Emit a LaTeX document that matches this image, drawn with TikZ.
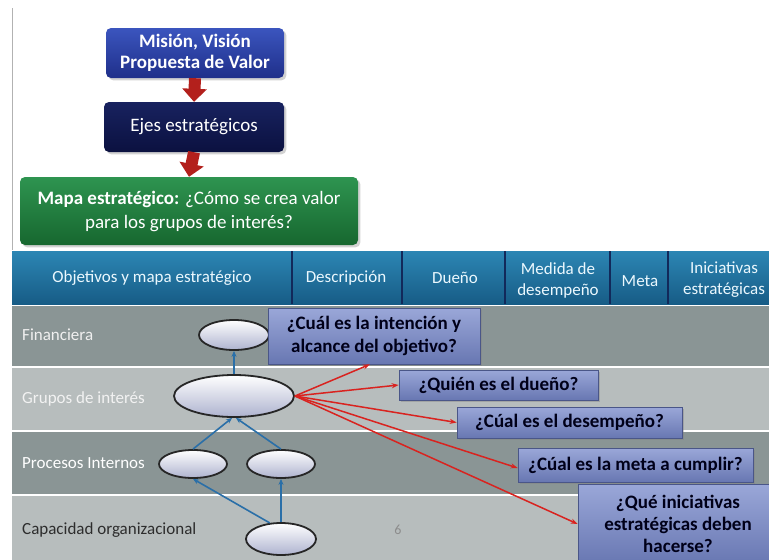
\documentclass[tikz,border=0pt]{standalone}
\usepackage{fontspec}
\setmainfont{Carlito}
\usetikzlibrary{positioning,arrows.meta,shadows,shapes.geometric,calc}

\definecolor{misiontop}{HTML}{3B55BE}
\definecolor{misionbot}{HTML}{1F2F8A}
\definecolor{ejestop}{HTML}{18225F}
\definecolor{ejesbot}{HTML}{0B1140}
\definecolor{mapatop}{HTML}{2E9450}
\definecolor{mapabot}{HTML}{17672F}
\definecolor{arrowred}{HTML}{B3201C}
\definecolor{headtop}{HTML}{2C86B4}
\definecolor{headbot}{HTML}{175C86}
\definecolor{headline}{HTML}{12295A}
\definecolor{rowdark}{HTML}{8A9595}
\definecolor{rowlight}{HTML}{B7BDBD}
\definecolor{ovalgray}{HTML}{AEB3CF}
\definecolor{linkblue}{HTML}{2A6FA8}
\definecolor{askred}{HTML}{D9231F}
\definecolor{qtop}{HTML}{9AA7D8}
\definecolor{qbot}{HTML}{6877B2}
\definecolor{qborder}{HTML}{4A5688}

\begin{document}
\begin{tikzpicture}[x=1pt,y=-1pt,
    topbox/.style={rectangle, rounded corners=5pt, align=center, text=white, inner sep=2pt, drop shadow={opacity=0.35}},
    bigarrow/.style={-{Triangle[width=24pt,length=13pt]}, line width=12pt, draw=arrowred},
    objective/.style={ellipse, draw=black!85, line width=1.8pt, top color=white, bottom color=ovalgray, inner sep=0pt},
    question/.style={rectangle, draw=qborder, line width=0.6pt, top color=qtop, bottom color=qbot, align=center, text=black!90!blue, inner sep=2pt, font=\fontsize{19}{23}\selectfont\bfseries, drop shadow={opacity=0.4}},
    rowlabel/.style={anchor=west, inner sep=0pt, font=\fontsize{17}{19}\selectfont},
    headcell/.style={align=center, text=white!92!cyan, inner sep=0pt, font=\fontsize{17}{21}\selectfont},
    linkarrow/.style={-{Stealth[length=6pt,width=5pt]}, line width=1.6pt, draw=linkblue},
    askarrow/.style={-{Stealth[length=7pt,width=5pt]}, line width=1.5pt, draw=askred}]

    \clip (0,0) rectangle (769,560);
    \fill[white] (0,0) rectangle (769,560);
    \draw[black!30, line width=0.8pt] (12,8) -- (12,250);

    %% Top of the slide
    \node[topbox, top color=misiontop, bottom color=misionbot, minimum width=178pt, minimum height=50pt,
          font=\fontsize{19}{20.5}\selectfont\bfseries] (mision) at (195,53) {Misión, Visión\\Propuesta de Valor};
    \node[topbox, top color=ejestop, bottom color=ejesbot, minimum width=180pt, minimum height=50pt,
          font=\fontsize{19}{21}\selectfont] (ejes) at (194,127) {Ejes estratégicos};
    \node[topbox, top color=mapatop, bottom color=mapabot, minimum width=338pt, minimum height=68pt,
          font=\fontsize{19}{24}\selectfont] (mapa) at (189,211) {\textbf{Mapa estratégico:} ¿Cómo se crea valor\\para los grupos de interés?};

    \draw[bigarrow] (mision.south) -- (ejes.north);
    \draw[bigarrow] (ejes.south) -- (mapa.north);

    %% Table
    \shade[top color=headtop, bottom color=headbot] (12,251) rectangle (769,304);
    \foreach \xs in {292,402,505,610,668}
        \draw[headline, line width=1.2pt] (\xs,251) -- (\xs,304);

    \node[headcell] (hobj) at (152,278) {Objetivos y mapa estratégico};
    \node[headcell] (hdesc) at (346,278) {Descripción};
    \node[headcell] (hdueno) at (455,278) {Dueño};
    \node[headcell] (hmedida) at (558,280) {Medida de\\desempeño};
    \node[headcell] (hmeta) at (640,281) {Meta};
    \node[headcell] (hinic) at (724,280) {Iniciativas\\estratégicas};

    \fill[rowdark] (12,306) rectangle (769,366);
    \fill[rowlight] (12,368) rectangle (769,430);
    \fill[rowdark] (12,432) rectangle (769,494);
    \fill[rowlight] (12,496) rectangle (769,560);

    \node[rowlabel, text=white!88!gray] (rfin) at (22,335) {Financiera};
    \node[rowlabel, text=white!90!gray] (rgrupos) at (22,399) {Grupos de interés};
    \node[rowlabel, text=white] (rproc) at (22,463) {Procesos Internos};
    \node[rowlabel, text=black!65!gray] (rcap) at (22,530) {Capacidad organizacional};
    \node[text=black!45, font=\fontsize{14}{16}\selectfont] (pagenum) at (398,530) {6};

    %% Strategy map
    \node[objective, minimum width=70pt, minimum height=30pt] (fin) at (234,335) {};
    \node[objective, minimum width=120pt, minimum height=42pt] (grupos) at (234,396) {};
    \node[objective, minimum width=68pt, minimum height=28pt] (procA) at (193,464) {};
    \node[objective, minimum width=68pt, minimum height=28pt] (procB) at (281,464) {};
    \node[objective, minimum width=70pt, minimum height=32pt] (capac) at (281,539) {};

    \draw[linkarrow] (grupos.north) -- (fin.south);
    \draw[linkarrow] (procA.north) -- (grupos.265);
    \draw[linkarrow] (procB.north) -- (grupos.275);
    \draw[linkarrow] (capac.125) -- (procA.south);
    \draw[linkarrow] (capac.north) -- (procB.south);

    %% Questions
    \node[question, minimum width=212pt, minimum height=56pt] (qintencion) at (374,336) {¿Cuál es la intención y\\alcance del objetivo?};
    \node[question, minimum width=199pt, minimum height=30pt] (qdueno) at (498.5,385) {¿Quién es el dueño?};
    \node[question, minimum width=225pt, minimum height=31pt] (qdesempeno) at (569.5,422.5) {¿Cúal es el desempeño?};
    \node[question, minimum width=235pt, minimum height=34pt] (qmeta) at (635.5,465) {¿Cúal es la meta a cumplir?};
    \node[question, minimum width=200pt, minimum height=80pt, font=\fontsize{19}{22}\selectfont\bfseries] (qiniciativas) at (678,524) {¿Qué iniciativas\\estratégicas deben\\hacerse?};

    \draw[askarrow] (grupos.east) -- ([xshift=-4pt]qintencion.south);
    \draw[askarrow] (grupos.east) -- (qdueno.west);
    \draw[askarrow] (grupos.east) -- (qdesempeno.west);
    \draw[askarrow] (grupos.east) -- ([yshift=-3pt]qmeta.west);
    \draw[askarrow] (grupos.east) -- (qiniciativas.west);
\end{tikzpicture}
\end{document}
